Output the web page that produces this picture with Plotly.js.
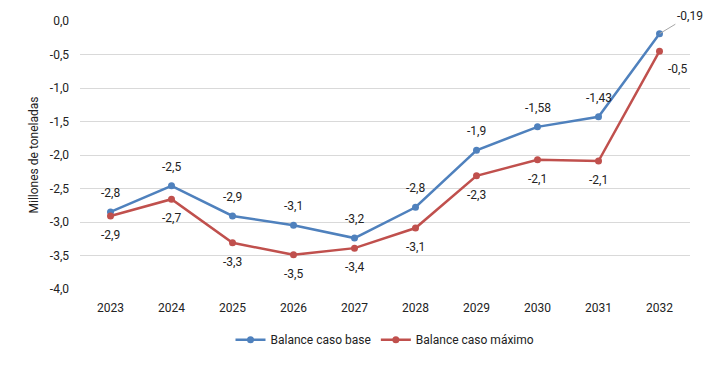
<!DOCTYPE html>
<html>
<head>
<meta charset="utf-8">
<script src="https://cdn.plot.ly/plotly-3.0.1.min.js"></script>
<style>html,body{margin:0;padding:0;background:#fff;}#chart{width:721px;height:377px;}</style>
</head>
<body>
<div id="chart"></div>
<script>
const years = ['2023','2024','2025','2026','2027','2028','2029','2030','2031','2032'];
const baseValues = [-2.85, -2.46, -2.91, -3.05, -3.24, -2.78, -1.93, -1.58, -1.43, -0.19];
const maxValues = [-2.91, -2.66, -3.31, -3.49, -3.39, -3.09, -2.31, -2.07, -2.09, -0.45];
const baseLabels = ['-2,8','-2,5','-2,9','-3,1','-3,2','-2,8','-1,9','-1,58','-1,43','-0,19'];
const maxLabels = ['-2,9','-2,7','-3,3','-3,5','-3,4','-3,1','-2,3','-2,1','-2,1','-0,5'];
const yTicks = [0, -0.5, -1, -1.5, -2, -2.5, -3, -3.5, -4];
const yTickLabels = ['0,0','-0,5','-1,0','-1,5','-2,0','-2,5','-3,0','-3,5','-4,0'];

const FONT = 'Roboto, sans-serif';
const blue = '#4F81BD', red = '#C0504D';

const traces = [
  {x: years, y: baseValues, name: 'Balance caso base', type: 'scatter', mode: 'lines+markers',
   line: {color: blue, width: 2.5}, marker: {color: blue, size: 7}},
  {x: years, y: maxValues, name: 'Balance caso máximo', type: 'scatter', mode: 'lines+markers',
   line: {color: red, width: 2.5}, marker: {color: red, size: 7}}
];

const annotations = [];
for (let i = 0; i < years.length; i++) {
  const last = i === years.length - 1;
  const f = {family: FONT, size: 12, color: '#222'};
  if (last) {
    annotations.push({xref: 'x', yref: 'y', x: i, y: baseValues[i], text: baseLabels[i], showarrow: true,
      arrowhead: 0, arrowwidth: 1, arrowcolor: '#a6a6a6', ax: 30, ay: -18, font: f});
    annotations.push({xref: 'x', yref: 'y', x: i, y: maxValues[i], text: maxLabels[i], showarrow: false,
      xshift: 18, yshift: -18, font: f});
  } else {
    annotations.push({xref: 'x', yref: 'y', x: i, y: baseValues[i], text: baseLabels[i], showarrow: false,
      yshift: 19, font: f});
    annotations.push({xref: 'x', yref: 'y', x: i, y: maxValues[i], text: maxLabels[i], showarrow: false,
      yshift: -19, font: f});
  }
}

const layout = {
  width: 721, height: 377,
  margin: {l: 80, r: 31, t: 21, b: 88},
  paper_bgcolor: '#fff', plot_bgcolor: '#fff',
  font: {family: FONT, size: 12, color: '#222'},
  xaxis: {type: 'category', range: [-0.5, 9.5], showgrid: false, zeroline: false,
    showline: false, ticks: '', ticklabelstandoff: 10, tickfont: {family: FONT, size: 12, color: '#222'}},
  yaxis: {range: [-4, 0], tickvals: yTicks, ticktext: yTickLabels, showgrid: true,
    gridcolor: '#d9d9d9', gridwidth: 1, zeroline: false, showline: false, ticks: '',
    ticklabelstandoff: 10, tickfont: {family: FONT, size: 12, color: '#222'},
    title: {text: 'Millones de toneladas', font: {family: FONT, size: 12, color: '#222'}, standoff: 8}},
  showlegend: true,
  legend: {orientation: 'h', x: 0.5, xanchor: 'center', y: -0.135, yanchor: 'top',
    font: {family: FONT, size: 12, color: '#222'}},
  annotations: annotations
};

Plotly.newPlot('chart', traces, layout, {displayModeBar: false});
</script>
</body>
</html>
